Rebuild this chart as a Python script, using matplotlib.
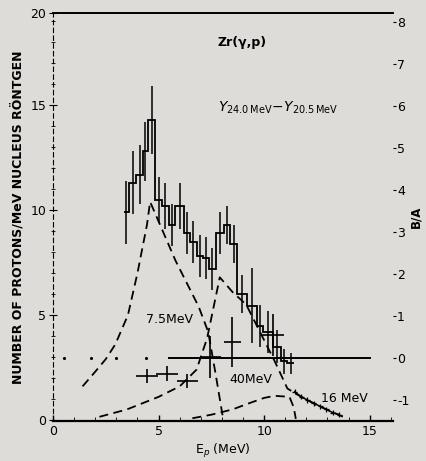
import matplotlib
matplotlib.use("Agg")
import matplotlib.pyplot as plt
import numpy as np

# main spectrum (histogram), left axis
bin_edges = [3.35, 3.6, 3.95, 4.25, 4.5, 4.85, 5.15, 5.5, 5.8, 6.2, 6.5, 6.8,
             7.1, 7.4, 7.7, 8.1, 8.4, 8.7, 9.2, 9.65, 9.95, 10.4, 10.8, 11.1, 11.4]
bin_counts = [9.9, 11.3, 11.7, 12.8, 14.3, 10.5, 10.2, 9.3, 10.2, 8.9, 8.5, 7.8,
              7.7, 7.2, 8.9, 9.3, 8.4, 6.0, 5.45, 4.5, 4.2, 3.5, 2.8, 2.7]
bin_errors = [1.5, 1.5, 1.4, 1.4, 1.6, 1.1, 1.1, 1.0, 1.1, 1.0, 1.0, 1.0,
              1.0, 1.0, 1.0, 0.9, 0.9, 0.9, 1.8, 1.0, 1.0, 0.8, 0.6, 0.5]

# high-energy tail
tail_e = [11.45, 11.75, 12.05, 12.35, 12.65, 12.95, 13.25, 13.55]
tail_n = [1.35, 1.1, 0.95, 0.8, 0.65, 0.5, 0.35, 0.25]

# separate points with horizontal and vertical errors
pt_e = [4.45, 5.4, 6.35, 7.45, 8.5, 10.4]
pt_n = [2.1, 2.2, 1.85, 3.0, 3.7, 4.05]
pt_xerr = [0.5, 0.5, 0.5, 0.5, 0.4, 0.55]
pt_yerr = [0.35, 0.35, 0.35, 1.0, 1.2, 1.0]

# calculated curves (dashed)
c75_e = [1.4, 2.0, 2.5, 2.95, 3.55, 4.0, 4.45, 4.6, 5.2, 5.8, 6.4, 6.9, 7.35, 7.7, 8.05]
c75_n = [1.6, 2.3, 2.9, 3.6, 5.0, 7.0, 9.3, 10.4, 9.0, 7.6, 6.4, 5.4, 4.2, 2.2, 0.1]
c40_e = [2.2, 3.5, 5.0, 6.0, 6.8, 7.3, 7.9, 8.5, 9.15, 9.8, 10.5, 11.1, 11.5, 12.5, 13.9]
c40_n = [0.15, 0.5, 1.1, 1.6, 2.4, 3.9, 6.8, 6.1, 5.5, 4.2, 2.8, 1.5, 1.25, 0.7, 0.08]
c16_e = [6.6, 7.5, 8.5, 9.3, 10.0, 10.5, 11.2, 11.4, 11.5]
c16_n = [0.08, 0.25, 0.5, 0.8, 1.05, 1.15, 1.1, 0.6, 0.05]

# B/A = 0 reference line (right axis)
ref_dots_e = [0.5, 1.8, 3.0, 4.4]
ref_line_e = [5.5, 15.0]

plt.rcParams["axes.unicode_minus"] = False

bg = "#dedcd8"
fig = plt.figure(figsize=(4.26, 4.61), dpi=100, facecolor=bg)
ax = fig.add_axes([0.1244, 0.0868, 0.798, 0.885], facecolor=bg)

ax.stairs(bin_counts, bin_edges, baseline=None, color="k", lw=1.3)
centers = [(a + b) / 2 for a, b in zip(bin_edges[:-1], bin_edges[1:])]
ax.errorbar(centers, bin_counts, yerr=bin_errors, fmt="none", ecolor="k", elinewidth=1.1)

ax.plot(tail_e, tail_n, color="k", lw=1.1)
ax.errorbar(tail_e, tail_n, xerr=0.12, yerr=0.12, fmt="none", ecolor="k", elinewidth=0.9)

ax.errorbar(pt_e, pt_n, xerr=pt_xerr, yerr=pt_yerr, fmt="none", ecolor="k", elinewidth=1.2)

dash = (0, (5, 3))
for xs, ys in [(c75_e, c75_n), (c40_e, c40_n), (c16_e, c16_n)]:
    ax.plot(xs, ys, color="k", lw=1.3, linestyle=dash)

ax.text(4.4, 4.8, "7.5MeV", fontsize=9, va="center")
ax.text(8.35, 1.95, "40MeV", fontsize=9, va="center")
ax.text(12.7, 1.0, "16 MeV", fontsize=9, va="center")
ax.text(7.8, 18.0, "Zr(γ,p)", fontsize=9, fontweight="bold", va="center")
ax.text(7.8, 14.9, r"$\mathit{Y}_{24.0\,\mathrm{MeV}}\!-\!\mathit{Y}_{20.5\,\mathrm{MeV}}$",
        fontsize=10, va="center")

ax.set_xlim(0, 16.1)
ax.set_ylim(-0.05, 19.4)
ax.set_xticks([0, 5, 10, 15])
ax.set_xticks(np.arange(0, 17, 1), minor=True)
ax.set_yticks([0, 5, 10, 15, 19.4])
ax.set_yticklabels(["0", "5", "10", "15", "20"])
ax.set_yticks(np.arange(0, 20, 1), minor=True)
ax.tick_params(axis="x", direction="in", length=4, width=1, labelsize=9, pad=3)
ax.tick_params(axis="x", which="minor", direction="in", length=3)
ax.tick_params(axis="y", direction="inout", length=6, labelsize=9, pad=2)
ax.tick_params(axis="y", which="minor", direction="inout", length=3)
ax.spines["right"].set_visible(False)
ax.spines["bottom"].set_linewidth(1.6)
ax.spines["top"].set_linewidth(1.4)
ax.spines["left"].set_linestyle((0, (4, 3)))
ax.set_xlabel("E$_p$ (MeV)", fontsize=9, labelpad=3)
ax.set_ylabel("NUMBER OF PROTONS/MeV NUCLEUS RÖNTGEN", fontsize=9, fontweight="bold", labelpad=4)

ax2 = ax.twinx()
ax2.set_ylim(-1.5, 8.225)
ax2.set_yticks(range(-1, 9))
for s in ax2.spines.values():
    s.set_visible(False)
ax2.tick_params(axis="y", direction="out", length=2, labelsize=9, pad=1)
ax2.set_ylabel("B/A", fontsize=8.5, fontweight="bold", labelpad=0)
ax2.plot(ref_line_e, [0, 0], color="k", lw=1.4)
ax2.plot(ref_dots_e, [0] * len(ref_dots_e), "k.", ms=2.5)

fig.savefig("out.png", dpi=100, facecolor=bg)
